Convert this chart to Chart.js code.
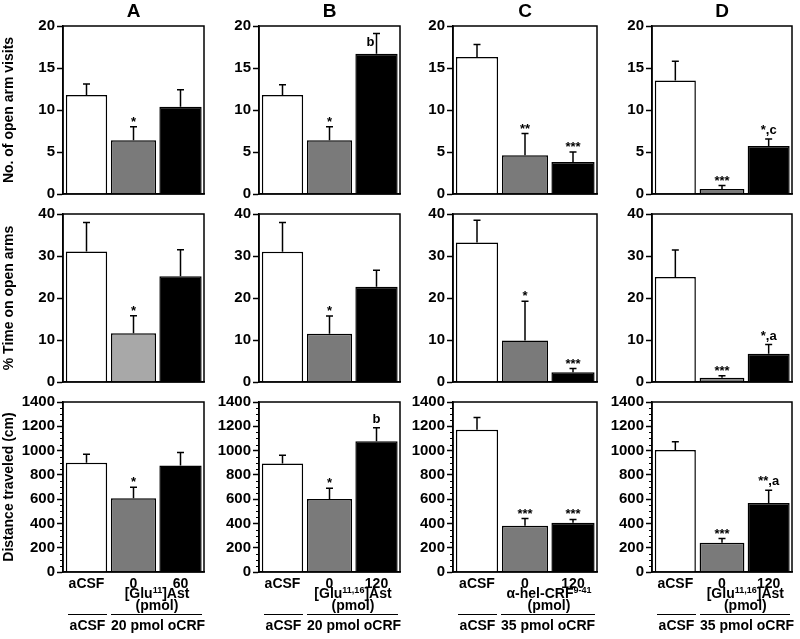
<!DOCTYPE html>
<html>
<head>
<meta charset="utf-8">
<script src="https://cdn.jsdelivr.net/npm/chart.js@4.4.1/dist/chart.umd.min.js"></script>
<style>
  html, body { margin: 0; padding: 0; background: #fff; }
  #fig { position: relative; width: 800px; height: 639px; overflow: hidden;
         font-family: 'Liberation Sans', Arial, sans-serif; font-weight: bold; color: #000; }
  #fig canvas { position: absolute; }
  .lbl { position: absolute; text-align: center; white-space: nowrap; }
  .colt { font-size: 19px; top: 0; line-height: 22px; }
  .treat { font-size: 14px; line-height: 12px; top: 587px; }
  .treat sup { font-size: 9px; vertical-align: 5px; line-height: 0; }
  .grp { font-size: 14px; line-height: 14px; top: 614px; border-top: 1.5px solid #000; padding-top: 3px; }
</style>
</head>
<body>
<div id="fig"></div>
<script>
// Libellés
const panelNames = ['A', 'B', 'C', 'D'];
const doseLabels = [['aCSF', '0', '60'], ['aCSF', '0', '120'], ['aCSF', '0', '120'], ['aCSF', '0', '120']];
const treatLabels = ['[Glu<sup>11</sup>]Ast', '[Glu<sup>11,16</sup>]Ast', '\u03b1-hel-CRF<sup>9-41</sup>', '[Glu<sup>11,16</sup>]Ast'];
const groupLabels = ['20 pmol oCRF', '20 pmol oCRF', '35 pmol oCRF', '35 pmol oCRF'];
const yTitles = ['No. of open arm visits', '% Time on open arms', 'Distance traveled (cm)'];
const yMax = [20, 40, 1400];
const yStep = [5, 10, 200];

// Nombre de visites des bras ouverts (moyenne, erreur)
const visitsMean = [[11.8, 6.4, 10.4], [11.8, 6.4, 16.7], [16.3, 4.6, 3.8], [13.5, 0.6, 5.7]];
const visitsErr = [[1.3, 1.6, 2.0], [1.2, 1.6, 2.4], [1.5, 2.6, 1.2], [2.3, 0.4, 0.85]];
const visitsSig = [['', '*', ''], ['', '*', 'b'], ['', '**', '***'], ['', '***', '*,c']];

// % temps sur les bras ouverts
const timeMean = [[31.1, 11.6, 25.2], [31.0, 11.5, 22.7], [33.2, 9.9, 2.3], [25.0, 1.0, 6.7]];
const timeErr = [[6.9, 4.2, 6.3], [7.0, 4.2, 3.9], [5.3, 9.3, 0.9], [6.4, 0.5, 2.2]];
const timeSig = [['', '*', ''], ['', '*', ''], ['', '*', '***'], ['', '***', '*,a']];

// Distance parcourue (cm)
const distMean = [[900, 607, 877], [894, 601, 1077], [1171, 381, 406], [1004, 240, 568]];
const distErr = [[69, 90, 108], [68, 88, 110], [101, 60, 27], [68, 36, 106]];
const distSig = [['', '*', ''], ['', '*', 'b'], ['', '***', '***'], ['', '***', '**,a']];

const means = [visitsMean, timeMean, distMean];
const errs = [visitsErr, timeErr, distErr];
const sigs = [visitsSig, timeSig, distSig];

// Mise en page (pixels)
const colLeft = [63, 259, 453, 652];
const colRight = [204, 400, 597, 792];
const rowTop = [25, 213, 401];
const rowBottom = [195, 383, 572];
const FONT = "'Liberation Sans', Arial, sans-serif";

Chart.defaults.font.family = FONT;
Chart.defaults.font.weight = 'bold';
Chart.defaults.color = '#000';

const fig = document.getElementById('fig');

// cadre autour de la zone de tracé + petites graduations
const framePlugin = {
  id: 'frame',
  afterDraw(chart) {
    const a = chart.chartArea, ctx = chart.ctx;
    ctx.save();
    ctx.strokeStyle = '#000';
    ctx.lineWidth = 1.5;
    ctx.strokeRect(a.left, a.top, a.right - a.left, a.bottom - a.top);
    const minor = chart.options.plugins.frame.minor;
    if (minor) {
      const y = chart.scales.y;
      ctx.lineWidth = 1;
      for (let v = 0; v <= y.max; v += minor) {
        if (v % y.options.ticks.stepSize === 0) continue;
        const py = Math.round(y.getPixelForValue(v)) + 0.5;
        ctx.beginPath();
        ctx.moveTo(a.left - 3, py);
        ctx.lineTo(a.left, py);
        ctx.stroke();
      }
    }
    ctx.restore();
  }
};

// barres d'erreur (vers le haut) et signes de significativité
const errorPlugin = {
  id: 'errbars',
  afterDatasetsDraw(chart) {
    const o = chart.options.plugins.errbars;
    const y = chart.scales.y, a = chart.chartArea, ctx = chart.ctx;
    ctx.save();
    ctx.strokeStyle = '#000';
    ctx.fillStyle = '#000';
    ctx.lineWidth = 1.5;
    ctx.font = 'bold 13px ' + FONT;
    o.mean.forEach((m, k) => {
      const bar = chart.getDatasetMeta(k).data[k];
      const x = bar.x;
      const y0 = y.getPixelForValue(m);
      const y1 = y.getPixelForValue(m + o.err[k]);
      ctx.beginPath();
      ctx.moveTo(x, y0);
      ctx.lineTo(x, y1);
      ctx.moveTo(x - 3.5, y1);
      ctx.lineTo(x + 3.5, y1);
      ctx.stroke();
      const s = o.sig[k];
      if (!s) return;
      if (y1 - 14 < a.top) {
        ctx.textAlign = 'right';
        ctx.textBaseline = 'top';
        ctx.fillText(s, x - 2, y1 + 2);
      } else {
        ctx.textAlign = 'center';
        ctx.textBaseline = 'bottom';
        // les astérisques seuls sont dessinés hauts dans la police
        const starOnly = /^\*+$/.test(s);
        ctx.fillText(s, x, y1 - 2 + (starOnly ? 4 : 0));
      }
    });
    ctx.restore();
  }
};

const barPct = [0.88, 0.96, 0.9];

function grayFor(r, c) {
  return (r === 1 && c === 0) ? '#a8a8a8' : '#7a7a7a';
}

for (let r = 0; r < 3; r++) {
  for (let c = 0; c < 4; c++) {
    const cvLeft = c === 0 ? 0 : colLeft[c] - 54;
    const YW = colLeft[c] - cvLeft;
    const XH = r === 2 ? 24 : 10;
    const cvTop = rowTop[r] - 10;
    const width = YW + (colRight[c] - colLeft[c]) + 6;
    const height = 10 + (rowBottom[r] - rowTop[r]) + XH;

    const cv = document.createElement('canvas');
    cv.width = width;
    cv.height = height;
    cv.style.left = cvLeft + 'px';
    cv.style.top = cvTop + 'px';
    fig.appendChild(cv);

    const vals = means[r][c];
    const fills = ['#ffffff', grayFor(r, c), '#000000'];
    const datasets = vals.map((v, k) => ({
      data: vals.map((w, j) => (j === k ? w : null)),
      backgroundColor: fills[k],
      borderColor: '#000',
      borderWidth: 1.5,
      grouped: false,
      categoryPercentage: 1,
      barPercentage: barPct[k]
    }));

    new Chart(cv, {
      type: 'bar',
      data: { labels: doseLabels[c], datasets: datasets },
      options: {
        responsive: false,
        animation: false,
        devicePixelRatio: 1,
        layout: { padding: { top: 10, right: 6, left: 0, bottom: 0 } },
        plugins: {
          legend: { display: false },
          tooltip: { enabled: false },
          frame: { minor: r === 2 ? 50 : 0 },
          errbars: { mean: vals, err: errs[r][c], sig: sigs[r][c] }
        },
        scales: {
          x: {
            type: 'category',
            offset: true,
            grid: { display: false, drawTicks: false },
            border: { color: '#000', width: 1.5 },
            ticks: { display: r === 2, font: { size: 14, weight: 'bold' }, color: '#000', padding: 4, maxRotation: 0, autoSkip: false },
            afterFit: s => { s.height = XH; }
          },
          y: {
            min: 0,
            max: yMax[r],
            ticks: { stepSize: yStep[r], font: { size: 15, weight: 'bold' }, color: '#000', padding: 2, callback: v => String(v) },
            grid: { drawOnChartArea: false, tickLength: 6, tickColor: '#000', tickWidth: 1.5 },
            border: { color: '#000', width: 1.5 },
            title: {
              display: c === 0,
              text: yTitles[r],
              font: { size: 14, weight: 'bold' },
              color: '#000',
              padding: { top: 1, bottom: 0 }
            },
            afterFit: s => { s.width = YW; }
          }
        }
      },
      plugins: [framePlugin, errorPlugin]
    });
  }
}

// textes en HTML : titres de colonnes, traitements, groupes
for (let c = 0; c < 4; c++) {
  const L = colLeft[c], W = colRight[c] - colLeft[c];
  const t = document.createElement('div');
  t.className = 'lbl colt';
  t.style.left = L + 'px';
  t.style.width = W + 'px';
  t.textContent = panelNames[c];
  fig.appendChild(t);

  const tr = document.createElement('div');
  tr.className = 'lbl treat';
  tr.style.left = (L + W * 2 / 3 - 70) + 'px';
  tr.style.width = '140px';
  tr.innerHTML = treatLabels[c] + '<br>(pmol)';
  fig.appendChild(tr);

  const g1 = document.createElement('div');
  g1.className = 'lbl grp';
  g1.style.left = (L + 5) + 'px';
  g1.style.width = '39px';
  g1.textContent = 'aCSF';
  fig.appendChild(g1);

  const g2 = document.createElement('div');
  g2.className = 'lbl grp';
  g2.style.left = (L + 48) + 'px';
  g2.style.width = (W - 50) + 'px';
  g2.textContent = groupLabels[c];
  fig.appendChild(g2);
}
</script>
</body>
</html>
